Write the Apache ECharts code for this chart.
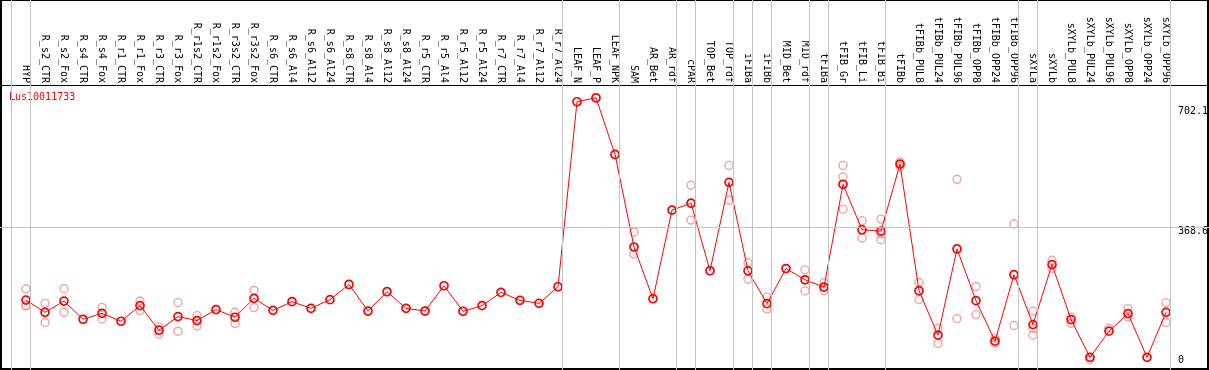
<!DOCTYPE html>
<html>
<head>
<meta charset="utf-8">
<script src="https://cdn.jsdelivr.net/npm/echarts@6/dist/echarts.min.js"></script>
<style>
html,body{margin:0;padding:0;background:#fff;}
#c{width:1209px;height:370px;}
</style>
</head>
<body>
<div id="c"></div>
<script>
const categories = ["HYP","R_s2_CTR","R_s2_Fox","R_s4_CTR","R_s4_Fox","R_r1_CTR","R_r1_Fox","R_r3_CTR","R_r3_Fox","R_r1s2_CTR","R_r1s2_Fox","R_r3s2_CTR","R_r3s2_Fox","R_s6_CTR","R_s6_Al4","R_s6_Al12","R_s6_Al24","R_s8_CTR","R_s8_Al4","R_s8_Al12","R_s8_Al24","R_r5_CTR","R_r5_Al4","R_r5_Al12","R_r5_Al24","R_r7_CTR","R_r7_Al4","R_r7_Al12","R_r7_Al24","LEAF_N","LEAF_P","LEAF_NPK","SAM","AR_Bet","AR_rdf","cPAR","TOP_Bet","TOP_rdf","iFIBa","iFIBb","MID_Bet","MID_rdf","tFIBa","tFIB_Gr","tFIB_Li","tFIB_Bi","tFIBb","tFIBb_PUL8","tFIBb_PUL24","tFIBb_PUL96","tFIBb_OPP8","tFIBb_OPP24","tFIBb_OPP96","sXYLa","sXYLb","sXYLb_PUL8","sXYLb_PUL24","sXYLb_PUL96","sXYLb_OPP8","sXYLb_OPP24","sXYLb_OPP96"];

const means = [180.4,148.8,177.8,130.8,146.2,125.7,166.0,102.6,137.8,127.5,155.7,136.0,184.7,153.9,176.2,159.1,181.4,220.6,152.1,201.9,159.1,152.1,217.3,151.4,166.0,200.1,179.6,171.9,214.7,691.9,702.1,555.9,317.3,183.9,412.3,430.2,256.0,484.1,255.8,171.1,261.7,232.7,213.7,479.0,361.7,358.4,531.0,204.5,89.8,312.2,178.8,74.4,245.8,117.2,271.9,130.1,32.6,100.1,145.5,32.6,148.8];

const replicates = [
  [209.6,165.0,166.6],[171.9,122.4],[209.6,148.8],[],[161.6,131.6],[],[177.8,153.2],[111.1,92.4],[173.7,100.1],[140.3,113.6],[],[148.8,119.8],[205.2,160.9],
  [],[],[],[],[],[],[],[],[],[],[],[],[],[],[],[],
  [],[],[],[355.8,298.9],[],[],[476.4,386.6],[],[527.7,437.9],[277.1,234.2],[188.0,157.3],[],[258.3,204.0],[225.8,204.5],
  [527.7,497.7,414.8],[384.8,340.4],[389.2,351.5,336.1],[536.9,524.1],[225.8,181.4],[107.7,68.5],[491.8,132.6],[215.5,142.9],[82.1,69.3],[376.6,114.9],
  [151.4,89.8,107.7],[283.0,261.7],[136.0,120.6],[26.4],[107.7],[158.3,136.7],[],[173.7,122.4]
];

const groupEnds = [-1,0,28,31,34,35,37,38,39,41,42,45,52,53,60];
const referenceValue = 368.6;
const axisValues = [702.1, 368.6, 0];
const geneName = "Lus10011733";

const W = 1209, H = 370;
const step = 19, firstCenter = 26;
const xMin = -firstCenter / step;
const xMax = xMin + W / step;
const sepOffset = 4 / step;
const yMax = 954.3;

const repData = [];
replicates.forEach((arr, i) => arr.forEach(v => repData.push([i, v])));
const meanData = means.map((v, i) => [i, v]);

const chart = echarts.init(document.getElementById('c'), null, {renderer: 'canvas'});
const font = 'DejaVu Sans Mono';

chart.setOption({
  animation: false,
  backgroundColor: '#fff',
  grid: {left: 0, top: 0, width: W, height: 372},
  xAxis: [
    {type: 'value', min: xMin, max: xMax, show: false},
    {type: 'value', min: xMin, max: xMax, position: 'top', offset: -85,
     axisLine: {show: true, onZero: false, lineStyle: {color: '#000', width: 1}},
     axisTick: {show: false}, splitLine: {show: false},
     axisLabel: {customValues: categories.map((_, i) => i), formatter: v => categories[Math.round(v)] || '',
       rotate: 90, margin: 2, fontFamily: font, fontSize: 10, color: '#000'}}
  ],
  yAxis: {type: 'value', min: 0, max: yMax, show: false},
  series: [
    {type: 'line', data: [], silent: true, z: 1,
     markLine: {silent: true, symbol: 'none', animation: false, label: {show: false},
       lineStyle: {color: '#c4c4c4', width: 1, type: 'solid'},
       data: groupEnds.map(g => ({xAxis: g + sepOffset})).concat([{yAxis: referenceValue}])}},
    {type: 'scatter', data: repData, symbol: 'circle', symbolSize: 8, z: 2,
     itemStyle: {color: 'rgba(0,0,0,0)', borderColor: '#ee8c8c', borderWidth: 1.4}},
    {type: 'line', data: meanData, symbol: 'circle', symbolSize: 8, z: 3,
     lineStyle: {color: '#ff0000', width: 1},
     itemStyle: {color: 'rgba(0,0,0,0)', borderColor: '#ff0000', borderWidth: 1.7}}
  ]
});

const labelShift = [14, 4, -10];
const graphics = axisValues.map((v, k) => ({
  type: 'text', x: 1178,
  y: chart.convertToPixel({yAxisIndex: 0}, v) + labelShift[k],
  style: {text: String(v), fontFamily: font, fontSize: 10, fill: '#000', textAlign: 'left', textVerticalAlign: 'middle'}
}));
graphics.push({type: 'text', x: 9, y: 97, style: {text: geneName, fontFamily: font, fontSize: 10, fill: '#ff0000', textVerticalAlign: 'middle'}});
graphics.push({type: 'rect', shape: {x: 0, y: 0, width: 2, height: H}, style: {fill: '#000'}});
graphics.push({type: 'rect', shape: {x: W - 2, y: 0, width: 2, height: H}, style: {fill: '#000'}});
graphics.push({type: 'rect', shape: {x: 0, y: 0, width: W, height: 1}, style: {fill: '#000'}});
graphics.push({type: 'rect', shape: {x: 0, y: H - 2, width: W, height: 2}, style: {fill: '#000'}});
chart.setOption({graphic: graphics});
</script>
</body>
</html>
